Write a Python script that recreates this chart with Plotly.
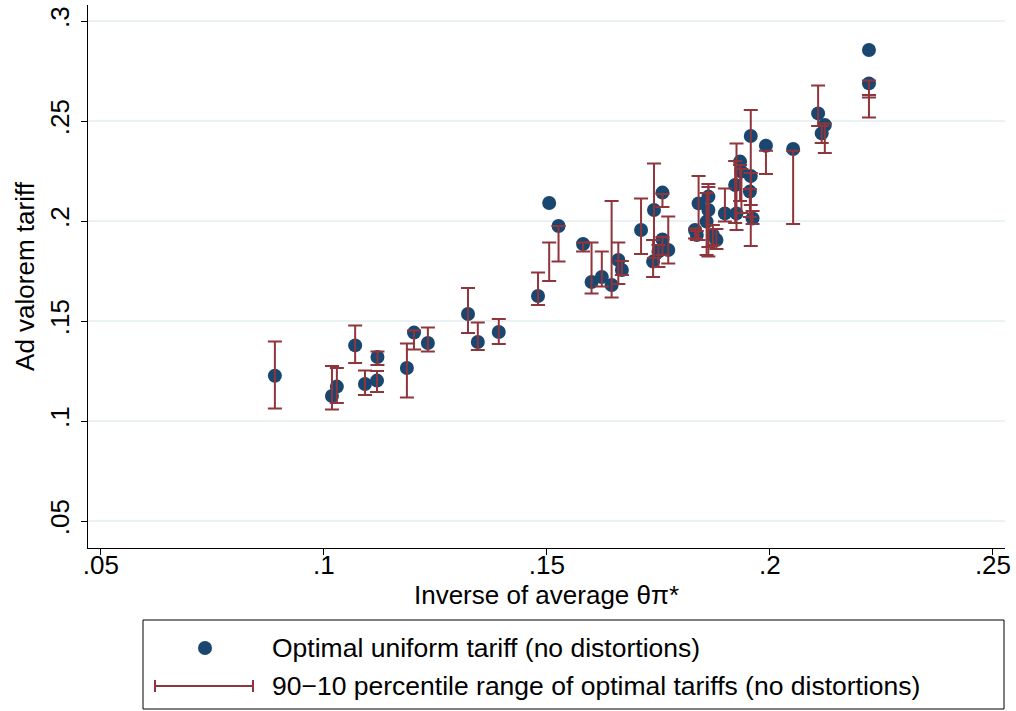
import numpy as np
import plotly.graph_objects as go

# Inverse of average theta*pi (x) and the optimal uniform tariff (y)
inv_theta = [0.0890, 0.1018, 0.1029, 0.1070, 0.1092, 0.1119, 0.1120, 0.1186, 0.1202, 0.1233,
             0.1323, 0.1345, 0.1392, 0.1480, 0.1505, 0.1526, 0.1581, 0.1600, 0.1623, 0.1645,
             0.1660, 0.1668, 0.1711, 0.1738, 0.1740, 0.1750, 0.1759, 0.1759, 0.1772, 0.1832,
             0.1836, 0.1840, 0.1858, 0.1862, 0.1862, 0.1872, 0.1880, 0.1899, 0.1922, 0.1925,
             0.1933, 0.1936, 0.1957, 0.1957, 0.1955, 0.1961, 0.1991, 0.2052, 0.2108, 0.2123,
             0.2116, 0.2222, 0.2222]
uniform_tariff = [0.1226, 0.1125, 0.1172, 0.1378, 0.1185, 0.1202, 0.1320, 0.1265, 0.1442, 0.1390,
                  0.1535, 0.1395, 0.1445, 0.1625, 0.2090, 0.1975, 0.1885, 0.1695, 0.1720, 0.1680,
                  0.1805, 0.1755, 0.1955, 0.1797, 0.2055, 0.1847, 0.2142, 0.1908, 0.1855, 0.1955,
                  0.1930, 0.2088, 0.1997, 0.2122, 0.2055, 0.1930, 0.1905, 0.2038, 0.2180, 0.2038,
                  0.2297, 0.2247, 0.2425, 0.2225, 0.2147, 0.2013, 0.2376, 0.2360, 0.2538, 0.2480,
                  0.2438, 0.2855, 0.2688]
# 90th and 10th percentiles of the optimal tariffs
p90 = [0.1398, 0.1275, 0.1265, 0.1477, 0.1252, 0.1250, 0.1347, 0.1388, 0.1452, 0.1468,
       0.1665, 0.1492, 0.1510, 0.1742, 0.1893, 0.1975, 0.1893, 0.1893, 0.1847, 0.2100,
       0.1893, 0.1800, 0.2113, 0.1905, 0.2288, 0.1880, 0.2135, 0.1920, 0.2022, 0.1963,
       0.1950, 0.2225, 0.2140, 0.2185, 0.2170, 0.1980, 0.1960, 0.2163, 0.2300, 0.2388,
       0.2280, 0.2260, 0.2555, 0.2240, 0.2160, 0.2050, 0.2351, 0.2351, 0.2677, 0.2488,
       0.2475, 0.2630, 0.2702]
p10 = [0.1063, 0.1058, 0.1090, 0.1290, 0.1130, 0.1145, 0.1280, 0.1118, 0.1358, 0.1347,
       0.1440, 0.1355, 0.1385, 0.1580, 0.1700, 0.1797, 0.1847, 0.1638, 0.1672, 0.1618,
       0.1685, 0.1730, 0.1835, 0.1720, 0.1815, 0.1770, 0.2070, 0.1830, 0.1788, 0.1913,
       0.1905, 0.1905, 0.1830, 0.1822, 0.1870, 0.1880, 0.1860, 0.1997, 0.1990, 0.1955,
       0.2100, 0.2040, 0.1875, 0.2080, 0.2020, 0.1985, 0.2235, 0.1985, 0.2475, 0.2340,
       0.2390, 0.2617, 0.2517]

x_ticks = [0.05, 0.10, 0.15, 0.20, 0.25]
x_labels = [".05", ".1", ".15", ".2", ".25"]
y_ticks = [0.05, 0.10, 0.15, 0.20, 0.25, 0.30]
y_labels = [".05", ".1", ".15", ".2", ".25", ".3"]

NAVY = "#1A476F"
MAROON = "#90353B"
FONT = "Liberation Sans, Arial, sans-serif"
FS = 26

hi = np.array(p90)
lo = np.array(p10)
mid = (hi + lo) / 2
half = (hi - lo) / 2

fig = go.Figure()
fig.add_trace(go.Scatter(
    x=inv_theta, y=uniform_tariff, mode="markers",
    marker=dict(color=NAVY, size=14, line=dict(width=0)),
    name="Optimal uniform tariff (no distortions)", showlegend=False,
))
fig.add_trace(go.Scatter(
    x=inv_theta, y=mid, mode="markers",
    marker=dict(color="rgba(0,0,0,0)", size=1),
    error_y=dict(type="data", symmetric=True, array=half,
                 color=MAROON, thickness=2, width=7),
    name="90\u221210 percentile range of optimal tariffs (no distortions)",
    showlegend=False,
))

# plot area in pixels: left 88, right 1005, top 5, bottom 548
L, R, T, B = 88, 1005, 5, 548
W, H = 1016, 711


def px_x(p):
    return (p - L) / (R - L)


def px_y(p):
    return (B - p) / (B - T)


shapes = []
# legend frame
shapes.append(dict(type="rect", xref="paper", yref="paper",
                   x0=px_x(143), x1=px_x(1004), y0=px_y(709), y1=px_y(620),
                   line=dict(color="black", width=1), fillcolor="white"))
# legend dot
shapes.append(dict(type="circle", xref="paper", yref="paper",
                   x0=px_x(198), x1=px_x(212), y0=px_y(655), y1=px_y(641),
                   line=dict(width=0), fillcolor=NAVY))
# legend capped range line
shapes.append(dict(type="line", xref="paper", yref="paper",
                   x0=px_x(155), x1=px_x(253), y0=px_y(686), y1=px_y(686),
                   line=dict(color=MAROON, width=2)))
for cx in (155, 253):
    shapes.append(dict(type="line", xref="paper", yref="paper",
                       x0=px_x(cx), x1=px_x(cx), y0=px_y(680), y1=px_y(692),
                       line=dict(color=MAROON, width=2)))

annotations = [
    dict(text="Optimal uniform tariff (no distortions)", xref="paper", yref="paper",
         x=px_x(270), y=px_y(648), xanchor="left", yanchor="middle", showarrow=False,
         font=dict(family=FONT, size=26.5, color="black")),
    dict(text="90\u221210 percentile range of optimal tariffs (no distortions)",
         xref="paper", yref="paper",
         x=px_x(270), y=px_y(686), xanchor="left", yanchor="middle", showarrow=False,
         font=dict(family=FONT, size=26.5, color="black")),
]

fig.update_layout(
    width=W, height=H, autosize=False,
    margin=dict(l=L, r=W - R, t=T, b=H - B),
    paper_bgcolor="white", plot_bgcolor="white",
    font=dict(family=FONT, size=FS, color="black"),
    shapes=shapes, annotations=annotations, showlegend=False,
)
fig.update_xaxes(
    range=[0.0471, 0.2527], tickvals=x_ticks, ticktext=x_labels,
    showgrid=False, zeroline=False, showline=True, linecolor="black", linewidth=1,
    ticks="outside", ticklen=6, tickcolor="black", tickwidth=1,
    tickfont=dict(size=FS), ticklabelstandoff=-12,
    title=dict(text="Inverse of average \u03b8\u03c0*", font=dict(size=FS), standoff=2),
)
fig.update_yaxes(
    range=[0.0365, 0.308], tickvals=y_ticks, ticktext=y_labels, tickangle=-90,
    showgrid=True, gridcolor="#EAF2F3", gridwidth=1.5,
    zeroline=False, showline=True, linecolor="black", linewidth=1,
    ticks="outside", ticklen=6, tickcolor="black", tickwidth=1,
    tickfont=dict(size=FS), ticklabelstandoff=2,
    title=dict(text="Ad valorem tariff", font=dict(size=FS), standoff=2),
)

fig.write_html("out.html")
